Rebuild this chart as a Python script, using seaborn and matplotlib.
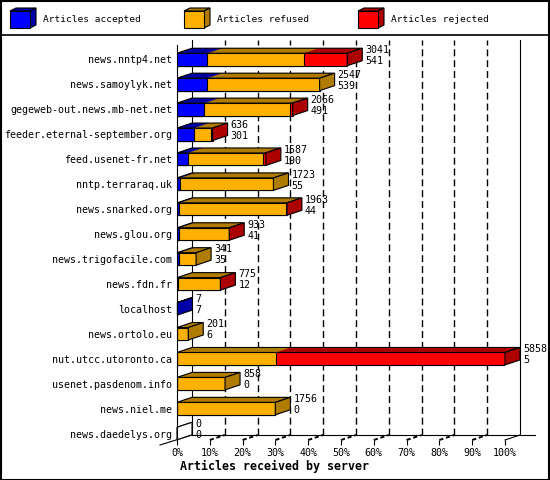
import numpy as np
import pandas as pd
import matplotlib
matplotlib.use('Agg')
import matplotlib.pyplot as plt
import matplotlib.transforms as mtransforms
from matplotlib.patches import Polygon, Rectangle
from matplotlib.lines import Line2D
import seaborn as sns

# ---------------- data ----------------
servers = ["news.nntp4.net", "news.samoylyk.net", "gegeweb-out.news.mb-net.net",
           "feeder.eternal-september.org", "feed.usenet-fr.net", "nntp.terraraq.uk",
           "news.snarked.org", "news.glou.org", "news.trigofacile.com", "news.fdn.fr",
           "localhost", "news.ortolo.eu", "nut.utcc.utoronto.ca", "usenet.pasdenom.info",
           "news.niel.me", "news.daedelys.org"]
accepted = [541, 539, 491, 301, 190, 55, 44, 41, 35, 12, 7, 6, 5, 0, 0, 0]
refused = [1727, 2008, 1535, 307, 1340, 1668, 1896, 882, 306, 751, 0, 195, 1763, 858, 1756, 0]
rejected = [773, 0, 40, 28, 57, 0, 23, 10, 0, 12, 0, 0, 4090, 0, 0, 0]
series_names = ["Articles accepted", "Articles refused", "Articles rejected"]
tick_labels = ["0%", "10%", "20%", "30%", "40%", "50%", "60%", "70%", "80%", "90%", "100%"]
x_title = "Articles received by server"

front_cols = ["#0000FF", "#FFB000", "#FF0000"]
dark_cols = ["#0000A8", "#B07C00", "#AC0000"]

df = pd.DataFrame({"server": servers, "accepted": accepted,
                   "refused": refused, "rejected": rejected})
df["acc_ref"] = df["accepted"] + df["refused"]
df["total"] = df["acc_ref"] + df["rejected"]

W, H, DPI = 550, 480, 100
MONO = "DejaVu Sans Mono"
plt.rcParams["font.family"] = [MONO, "DejaVu Sans"]
plt.rcParams["lines.scale_dashes"] = False

fig = plt.figure(figsize=(W / DPI, H / DPI), dpi=DPI)
fig.patch.set_facecolor("white")

def fx(px):
    return px / W

def fy(py):
    return 1 - py / H

# axes: front plane from x=177..505, y=45..440 px
ax = fig.add_axes([fx(177), fy(440), 328 / W, 395 / H])
ax.set_facecolor("none")

DX, DY = 15, 5  # depth in pixels (right, up)

layers = [("total", 2), ("acc_ref", 1), ("accepted", 0)]
layer_patches = {}
for col, ci in layers:
    n0 = len(ax.patches)
    sns.barplot(data=df, x=col, y="server", orient="h", color=front_cols[ci],
                saturation=1, width=0.5, edgecolor="black", linewidth=0.8,
                errorbar=None, ax=ax, zorder=2)
    layer_patches[ci] = ax.patches[n0:]

xmax = float(df["total"].max())
ax.set_xlim(0, xmax)
ax.set_ylim(15.26, -0.58)
ax.set_xlabel("")
ax.set_ylabel("")
for s in ["top", "right", "bottom"]:
    ax.spines[s].set_visible(False)
ax.spines["left"].set_color("black")
ax.spines["left"].set_linewidth(0.8)
ax.spines["left"].set_zorder(3)

ax.set_xticks(np.linspace(0, xmax, len(tick_labels)))
ax.set_xticklabels(tick_labels)
ax.tick_params(axis="x", length=3.6, width=0.8, pad=2.0, labelsize=7.2, colors="black")
ax.tick_params(axis="y", length=0, pad=3.6, labelsize=7.2, colors="black")

# conversion of pixel depth to data units
bbox = ax.get_position()
ax_w_px = bbox.width * W
ax_h_px = bbox.height * H
yl = ax.get_ylim()
px_row = ax_h_px / abs(yl[0] - yl[1])
dxd = DX * xmax / ax_w_px
dyd = -DY / px_row
dy_ax = DY / ax_h_px

blend = mtransforms.blended_transform_factory(ax.transData, ax.transAxes)

# back wall dashed gridlines
for t in np.linspace(0, xmax, len(tick_labels))[1:-1]:
    ax.add_line(Line2D([t + dxd, t + dxd], [dy_ax, 1 + dy_ax], transform=blend,
                       color="black", lw=1.0, linestyle=(0, (5, 2.8)), zorder=0.5,
                       clip_on=False))
    ax.add_line(Line2D([t, t + dxd], [0, dy_ax], transform=blend,
                       color="black", lw=1.4, linestyle=(0, (3, 2)), zorder=0.5,
                       clip_on=False))
# back wall solid lines and floor
for t in [0, xmax]:
    ax.add_line(Line2D([t + dxd, t + dxd], [dy_ax, 1 + dy_ax], transform=blend,
                       color="black", lw=0.8, zorder=0.5, clip_on=False))
ax.add_line(Line2D([dxd, xmax + 2 * dxd], [dy_ax, dy_ax], transform=blend,
                   color="black", lw=0.8, zorder=0.5, clip_on=False))
ax.add_line(Line2D([dxd, -17 * xmax / ax_w_px], [dy_ax, -dy_ax], transform=blend,
                   color="black", lw=0.8, zorder=0.5, clip_on=False))
ax.add_line(Line2D([xmax + dxd, xmax], [dy_ax, 0], transform=blend,
                   color="black", lw=0.8, zorder=0.5, clip_on=False))

# 3D top faces from the bar patches
for col, ci in layers:
    for p in layer_patches[ci]:
        x0 = p.get_x()
        x1 = x0 + p.get_width()
        if x1 - x0 <= 0:
            continue
        yt = p.get_y()
        ax.add_patch(Polygon([(x0, yt), (x1, yt), (x1 + dxd, yt + dyd), (x0 + dxd, yt + dyd)],
                             closed=True, facecolor=dark_cols[ci], edgecolor="none",
                             zorder=2.1, clip_on=False))

# outlines of tops and side faces
for i, p in enumerate(layer_patches[2]):
    tot = df["total"].iloc[i]
    yt = p.get_y()
    yb = yt + p.get_height()
    x1 = p.get_x() + p.get_width()
    ax.add_patch(Polygon([(0, yt), (x1, yt), (x1 + dxd, yt + dyd), (dxd, yt + dyd)],
                         closed=True, facecolor="none", edgecolor="black", lw=0.8,
                         zorder=2.2, clip_on=False))
    if tot == 0:
        sc = "white"
    elif df["rejected"].iloc[i] > 0:
        sc = dark_cols[2]
    elif df["refused"].iloc[i] > 0:
        sc = dark_cols[1]
    else:
        sc = dark_cols[0]
    ax.add_patch(Polygon([(x1, yt), (x1, yb), (x1 + dxd, yb + dyd), (x1 + dxd, yt + dyd)],
                         closed=True, facecolor=sc, edgecolor="black", lw=0.8,
                         zorder=2.2, clip_on=False))

# value labels
up = ax.transData + mtransforms.ScaledTranslation(18 / DPI, 9.5 / DPI, fig.dpi_scale_trans)
dn = ax.transData + mtransforms.ScaledTranslation(18 / DPI, -1.5 / DPI, fig.dpi_scale_trans)
for i in range(len(servers)):
    tot = df["total"].iloc[i]
    ax.text(tot, i, str(tot), transform=up, ha="left", va="center",
            fontsize=7.2, color="black", zorder=4, clip_on=False)
    ax.text(tot, i, str(df["accepted"].iloc[i]), transform=dn, ha="left", va="center",
            fontsize=7.2, color="black", zorder=4, clip_on=False)

# x title
fig.text(fx(180), fy(466.5), x_title, ha="left", va="center", fontsize=8.4,
         fontweight="bold", color="black")

# legend with cubes
leg_x = [10, 184, 358]
for k, name in enumerate(series_names):
    x0 = leg_x[k]
    pts_front = [(x0, 11), (x0 + 20, 11), (x0 + 20, 28), (x0, 28)]
    pts_top = [(x0, 11), (x0 + 20, 11), (x0 + 26, 8), (x0 + 6, 8)]
    pts_side = [(x0 + 20, 11), (x0 + 26, 8), (x0 + 26, 25), (x0 + 20, 28)]
    for pts, c in [(pts_top, dark_cols[k]), (pts_side, dark_cols[k]), (pts_front, front_cols[k])]:
        fig.patches.append(Polygon([(fx(a), fy(b)) for a, b in pts], closed=True,
                                   facecolor=c, edgecolor="black", lw=0.8,
                                   transform=fig.transFigure, figure=fig))
    fig.text(fx(x0 + 33), fy(20), name, ha="left", va="center", fontsize=6.8, color="black")

# separator and border
fig.lines.append(Line2D([0, 1], [fy(35), fy(35)], transform=fig.transFigure,
                        color="black", lw=1.2, figure=fig))
fig.patches.append(Rectangle((0.001, 0.001), 0.997, 0.997, transform=fig.transFigure,
                             facecolor="none", edgecolor="black", lw=1.5, figure=fig))

fig.savefig("out.png", dpi=DPI)
